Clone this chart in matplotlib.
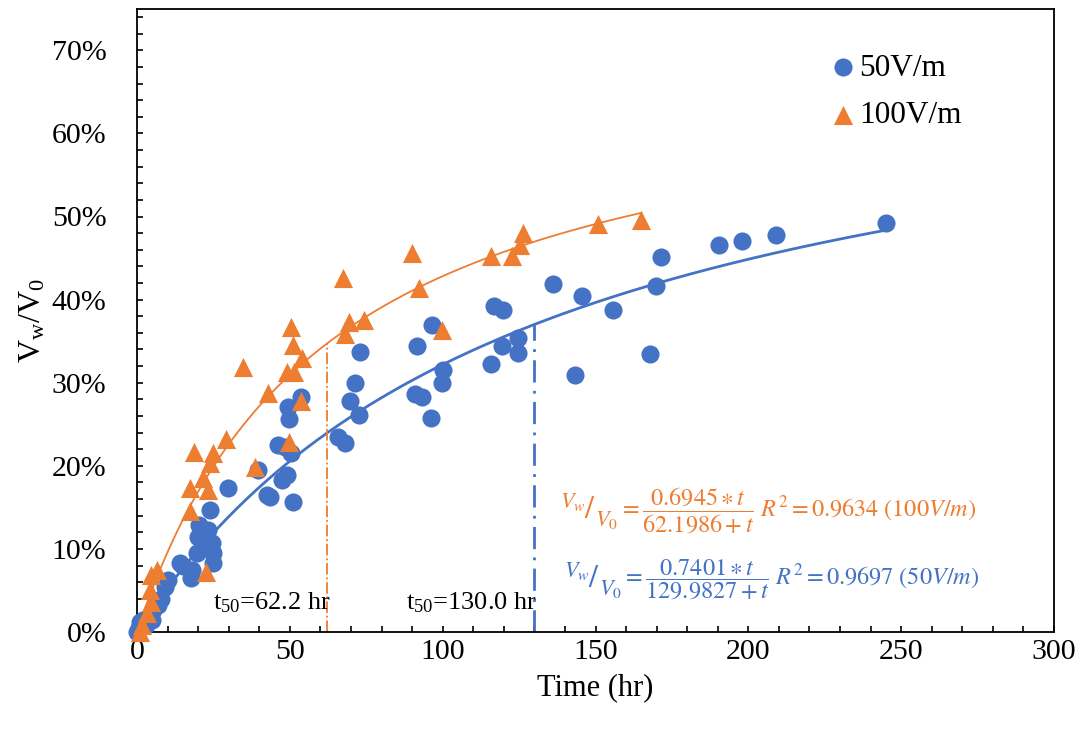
import numpy as np
import matplotlib
matplotlib.use("Agg")
import matplotlib.pyplot as plt
from matplotlib.ticker import MultipleLocator, PercentFormatter

plt.rcParams['font.family'] = ['Liberation Serif', 'DejaVu Serif']
plt.rcParams['mathtext.fontset'] = 'custom'
plt.rcParams['mathtext.rm'] = 'Liberation Serif'
plt.rcParams['mathtext.it'] = 'Liberation Serif:italic'

# 50 V/m data (time in hr, Vw/V0 fraction)
t_50 = [0, 0.5, 1, 2, 3, 5, 5.2, 7, 8, 9.2, 10, 14, 15, 17.7, 18, 19.6, 20, 20.3,
        21.6, 21.6, 23.2, 23.9, 24.5, 24.9, 25, 29.8, 39.6, 42.5, 43.5, 46, 47.4,
        48.4, 49, 49.4, 49.7, 50.5, 51, 53.6, 65.8, 68.0, 69.7, 71.3, 72.6, 72.9,
        90.9, 91.6, 93.2, 96.2, 96.5, 99.8, 100.1, 115.8, 116.8, 119.4, 119.7,
        124.6, 124.6, 136.1, 143.3, 145.6, 155.7, 167.8, 169.8, 171.4, 190.4,
        197.9, 209.0, 245.0]
v_50 = [0.000, 0.005, 0.012, 0.015, 0.008, 0.015, 0.026, 0.032, 0.040, 0.054, 0.062,
        0.083, 0.080, 0.065, 0.075, 0.095, 0.114, 0.129, 0.102, 0.123, 0.123, 0.147,
        0.107, 0.095, 0.083, 0.173, 0.195, 0.165, 0.163, 0.225, 0.183, 0.223, 0.189,
        0.271, 0.256, 0.215, 0.156, 0.283, 0.235, 0.227, 0.278, 0.300, 0.261, 0.337,
        0.286, 0.344, 0.283, 0.258, 0.369, 0.300, 0.315, 0.323, 0.392, 0.344, 0.387,
        0.354, 0.336, 0.419, 0.309, 0.404, 0.387, 0.335, 0.416, 0.451, 0.466, 0.470,
        0.478, 0.492]

# 100 V/m data
t_100 = [1.0, 1.6, 3.3, 4.6, 4.3, 4.6, 6.5, 17.3, 17.3, 18.6, 21.6, 22.6, 23.2, 23.9,
         24.9, 29.1, 34.7, 38.6, 42.9, 49.0, 49.7, 50.4, 51.0, 51.4, 53.6, 54.0, 67.4,
         68.0, 69.3, 74.3, 89.9, 92.2, 99.8, 115.8, 122.7, 125.3, 126.3, 150.8, 164.9]
v_100 = [0.000, 0.008, 0.023, 0.036, 0.051, 0.069, 0.075, 0.146, 0.173, 0.217, 0.185,
         0.072, 0.171, 0.203, 0.215, 0.232, 0.319, 0.199, 0.288, 0.313, 0.229, 0.367,
         0.345, 0.313, 0.278, 0.330, 0.426, 0.359, 0.373, 0.375, 0.456, 0.414, 0.363,
         0.452, 0.452, 0.466, 0.480, 0.491, 0.496]

# hyperbolic fits Vw/V0 = a*t/(b+t)
a_50, b_50, tmax_50 = 0.7401, 129.9827, 245
a_100, b_100, tmax_100 = 0.6945, 62.1986, 165

blue = '#4472C4'
orange = '#ED7D31'

fig = plt.figure(figsize=(10.84, 7.32), dpi=100)
ax = fig.add_axes([137 / 1084, 1 - 632 / 732, (1054 - 137) / 1084, (632 - 8.75) / 732])

tt = np.linspace(0, tmax_50, 300)
ax.plot(tt, a_50 * tt / (b_50 + tt), color=blue, lw=2.0, zorder=2)
tt = np.linspace(0, tmax_100, 300)
ax.plot(tt, a_100 * tt / (b_100 + tt), color=orange, lw=1.3, zorder=2)

ax.scatter(t_50, v_50, s=170, color=blue, marker='o', label='50V/m', zorder=3,
           clip_on=False, linewidths=0)
ax.scatter(t_100, v_100, s=190, color=orange, marker='^', label='100V/m', zorder=4,
           clip_on=False, linewidths=0)

# t50 marker lines
ax.plot([b_100, b_100], [0, a_100 / 2], color=orange, lw=1.3, ls='-.', zorder=2)
ax.plot([b_50, b_50], [0, a_50 / 2], color=blue, lw=2.0, ls=(0, (8, 3, 1, 3)), zorder=2)
ax.text(25, 0.02, r't$_{50}$=62.2 hr', fontsize=19, ha='left', va='bottom')
ax.text(88, 0.02, r't$_{50}$=130.0 hr', fontsize=19, ha='left', va='bottom')


def fit_label(x_slash, yc, color, body, x_body):
    kw = dict(color=color, math_fontfamily='stix', va='center')
    ax.text(x_slash - 1.4, yc + 0.010, r'$V_w$', ha='right', fontsize=16, **kw)
    ax.text(x_slash, yc, r'$/$', ha='center', fontsize=23, **kw)
    ax.text(x_slash + 1.7, yc - 0.011, r'$V_0$', ha='left', fontsize=16, **kw)
    ax.text(x_body, yc, body, ha='left', fontsize=17.5, **kw)


fit_label(148.1, 0.146, orange,
          r'$=\dfrac{0.6945\ast t}{62.1986+t}\ R^2=0.9634\ (100V/m)$', 157.8)
fit_label(149.4, 0.063, blue,
          r'$=\dfrac{0.7401\ast t}{129.9827+t}\ R^2=0.9697\ (50V/m)$', 158.8)

ax.set_xlim(0, 300)
ax.set_ylim(0, 0.75)
ax.xaxis.set_major_locator(MultipleLocator(50))
ax.xaxis.set_minor_locator(MultipleLocator(10))
ax.yaxis.set_major_formatter(PercentFormatter(1.0, decimals=0))
ax.set_yticks([0, 0.1, 0.2, 0.3, 0.4, 0.5, 0.6, 0.7])
ax.yaxis.set_minor_locator(MultipleLocator(0.02))
ax.tick_params(axis='both', which='both', direction='in', length=4.5, width=1.2, labelsize=21.5)
ax.tick_params(axis='y', which='both', pad=22)
ax.tick_params(axis='x', which='both', pad=5)
for s in ax.spines.values():
    s.set_linewidth(1.3)

ax.set_xlabel('Time (hr)', fontsize=22, labelpad=6)
ax.set_ylabel(r'V$_\mathregular{w}$/V$_\mathregular{0}$', fontsize=23, labelpad=3)

ax.legend(loc='upper left', bbox_to_anchor=(812 / 1084, 1 - 38 / 732),
          bbox_transform=fig.transFigure, frameon=False, fontsize=22.5,
          handletextpad=0.0, labelspacing=0.58, borderpad=0, handlelength=1.0)

fig.savefig('out.png', dpi=100)
